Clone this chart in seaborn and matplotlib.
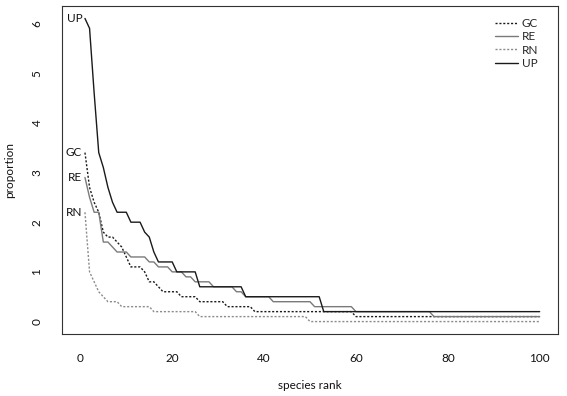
import numpy as np
import pandas as pd
import matplotlib
matplotlib.use("Agg")
import matplotlib.pyplot as plt
import seaborn as sns

# species rank 1..100, proportions
ranks = list(range(1, 101))

gc = [3.4, 2.7, 2.4, 2.2, 1.8, 1.7, 1.7, 1.6, 1.5, 1.3,
      1.1, 1.1, 1.1, 1.0, 0.8, 0.8, 0.7, 0.6, 0.6, 0.6,
      0.6, 0.5, 0.5, 0.5, 0.5, 0.4, 0.4, 0.4, 0.4, 0.4,
      0.4, 0.3, 0.3, 0.3, 0.3, 0.3, 0.3, 0.2, 0.2, 0.2,
      0.2, 0.2, 0.2, 0.2, 0.2, 0.2, 0.2, 0.2, 0.2, 0.2,
      0.2, 0.2, 0.2, 0.2, 0.2, 0.2, 0.2, 0.2, 0.2, 0.1,
      0.1, 0.1, 0.1, 0.1, 0.1, 0.1, 0.1, 0.1, 0.1, 0.1,
      0.1, 0.1, 0.1, 0.1, 0.1, 0.1, 0.1, 0.1, 0.1, 0.1,
      0.1, 0.1, 0.1, 0.1, 0.1, 0.1, 0.1, 0.1, 0.1, 0.1,
      0.1, 0.1, 0.1, 0.1, 0.1, 0.1, 0.1, 0.1, 0.1, 0.1]

re = [2.9, 2.5, 2.2, 2.2, 1.6, 1.6, 1.5, 1.4, 1.4, 1.4,
      1.3, 1.3, 1.3, 1.3, 1.2, 1.2, 1.1, 1.1, 1.1, 1.0,
      1.0, 1.0, 0.9, 0.9, 0.8, 0.8, 0.8, 0.8, 0.7, 0.7,
      0.7, 0.7, 0.7, 0.6, 0.6, 0.5, 0.5, 0.5, 0.5, 0.5,
      0.5, 0.4, 0.4, 0.4, 0.4, 0.4, 0.4, 0.4, 0.4, 0.4,
      0.3, 0.3, 0.3, 0.3, 0.3, 0.3, 0.3, 0.3, 0.3, 0.2,
      0.2, 0.2, 0.2, 0.2, 0.2, 0.2, 0.2, 0.2, 0.2, 0.2,
      0.2, 0.2, 0.2, 0.2, 0.2, 0.2, 0.1, 0.1, 0.1, 0.1,
      0.1, 0.1, 0.1, 0.1, 0.1, 0.1, 0.1, 0.1, 0.1, 0.1,
      0.1, 0.1, 0.1, 0.1, 0.1, 0.1, 0.1, 0.1, 0.1, 0.1]

rn = [2.2, 1.0, 0.8, 0.6, 0.5, 0.4, 0.4, 0.4, 0.3, 0.3,
      0.3, 0.3, 0.3, 0.3, 0.3, 0.2, 0.2, 0.2, 0.2, 0.2,
      0.2, 0.2, 0.2, 0.2, 0.2, 0.1, 0.1, 0.1, 0.1, 0.1,
      0.1, 0.1, 0.1, 0.1, 0.1, 0.1, 0.1, 0.1, 0.1, 0.1,
      0.1, 0.1, 0.1, 0.1, 0.1, 0.1, 0.1, 0.1, 0.1, 0.0,
      0.0, 0.0, 0.0, 0.0, 0.0, 0.0, 0.0, 0.0, 0.0, 0.0,
      0.0, 0.0, 0.0, 0.0, 0.0, 0.0, 0.0, 0.0, 0.0, 0.0,
      0.0, 0.0, 0.0, 0.0, 0.0, 0.0, 0.0, 0.0, 0.0, 0.0,
      0.0, 0.0, 0.0, 0.0, 0.0, 0.0, 0.0, 0.0, 0.0, 0.0,
      0.0, 0.0, 0.0, 0.0, 0.0, 0.0, 0.0, 0.0, 0.0, 0.0]

up = [6.1, 5.9, 4.6, 3.4, 3.1, 2.7, 2.4, 2.2, 2.2, 2.2,
      2.0, 2.0, 2.0, 1.8, 1.7, 1.4, 1.2, 1.2, 1.2, 1.2,
      1.0, 1.0, 1.0, 1.0, 1.0, 0.7, 0.7, 0.7, 0.7, 0.7,
      0.7, 0.7, 0.7, 0.7, 0.7, 0.5, 0.5, 0.5, 0.5, 0.5,
      0.5, 0.5, 0.5, 0.5, 0.5, 0.5, 0.5, 0.5, 0.5, 0.5,
      0.5, 0.5, 0.2, 0.2, 0.2, 0.2, 0.2, 0.2, 0.2, 0.2,
      0.2, 0.2, 0.2, 0.2, 0.2, 0.2, 0.2, 0.2, 0.2, 0.2,
      0.2, 0.2, 0.2, 0.2, 0.2, 0.2, 0.2, 0.2, 0.2, 0.2,
      0.2, 0.2, 0.2, 0.2, 0.2, 0.2, 0.2, 0.2, 0.2, 0.2,
      0.2, 0.2, 0.2, 0.2, 0.2, 0.2, 0.2, 0.2, 0.2, 0.2]

sites = ["GC", "RE", "RN", "UP"]
x_ticks = [0, 20, 40, 60, 80, 100]
y_ticks = [0, 1, 2, 3, 4, 5, 6]

df = pd.DataFrame({
    "rank": ranks * 4,
    "proportion": gc + re + rn + up,
    "site": [s for s in sites for _ in ranks],
})

sns.set_style("white")
plt.rcParams["font.family"] = ["Lato", "DejaVu Sans"]
plt.rcParams["font.size"] = 8

colors = {"GC": "#1a1a1a", "RE": "#7a7a7a", "RN": "#8c8c8c", "UP": "#1a1a1a"}
dashes = {"GC": (1.5, 1.3), "RE": "", "RN": (1.5, 1.3), "UP": ""}

fig = plt.figure(figsize=(5.67, 3.96), dpi=100)
ax = fig.add_axes([62 / 567, 62 / 396, 496 / 567, 328 / 396])

sns.lineplot(data=df, x="rank", y="proportion", hue="site", style="site",
             hue_order=sites, style_order=sites, palette=colors, dashes=dashes,
             linewidth=1.0, legend=False, ax=ax)

for line, name in zip(ax.lines, sites):
    line.set_label(name)

# labels at the start of each curve
for name, vals in zip(sites, [gc, re, rn, up]):
    ax.annotate(name, (ranks[0], vals[0]), xytext=(-2, 0), textcoords="offset points",
                ha="right", va="center", fontsize=8.5, color="#111111")

ax.set_xlim(-4, 104)
ax.set_ylim(-0.25, 6.35)
ax.set_xticks(x_ticks)
ax.set_yticks(y_ticks)
ax.tick_params(axis="both", direction="out", length=5, width=0.8, pad=9,
               labelsize=8.5, colors="#111111")
plt.setp(ax.get_yticklabels(), rotation=90, va="center")
for sp in ax.spines.values():
    sp.set_color("#333333")
    sp.set_linewidth(0.8)

ax.set_xlabel("species rank", fontsize=8.5, labelpad=11, color="#111111")
ax.set_ylabel("proportion", fontsize=8.5, labelpad=12, color="#111111")

ax.legend(loc="upper right", bbox_to_anchor=(1 - 8 / 496, 1), frameon=False,
          fontsize=8.5, handlelength=1.95, handletextpad=0.35, labelspacing=0.2,
          borderaxespad=0.6)

fig.savefig("out.png", dpi=100)
